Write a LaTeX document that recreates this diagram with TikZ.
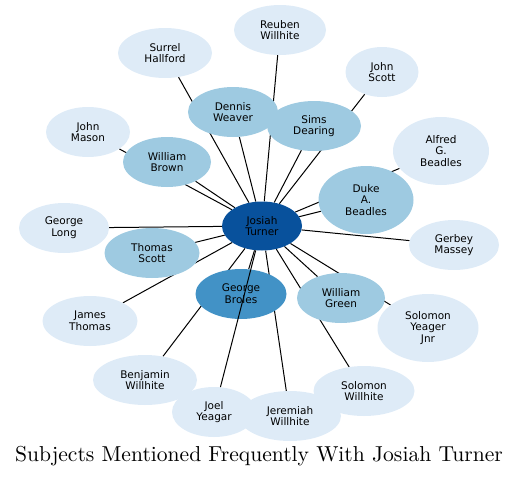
\documentclass[tikz,border=0pt]{standalone}
\usepackage{fontspec}
\setsansfont{DejaVu Sans}
\newfontfamily\titlefont{lmroman10-regular.otf}
\usetikzlibrary{shapes.geometric,backgrounds}
\definecolor{pale}{HTML}{DEEBF7}
\definecolor{mid}{HTML}{9ECAE1}
\definecolor{deep}{HTML}{4292C6}
\definecolor{core}{HTML}{08519C}

\begin{document}
\begin{tikzpicture}[x=1pt, y=-1pt,
    person/.style={ellipse, fill=pale, inner sep=0pt, minimum width=#1, minimum height=50pt,
      align=center, text=black, font=\sffamily\fontsize{10.5}{11.7}\selectfont},
    tall/.style={minimum height=68pt},
    link/.style={line width=1pt}]
    \useasboundingbox (0,0) rectangle (519,477);

    % Nodes
    \node[person=80pt, fill=core, minimum height=49pt] at (262, 226) (jt) {Josiah\\Turner};
    \node[person=94pt] at (165, 53) (sh) {Surrel\\Hallford};
    \node[person=92pt] at (280, 30) (rw) {Reuben\\Willhite};
    \node[person=73pt] at (382, 72) (js) {John\\Scott};
    \node[person=90pt, fill=mid] at (233, 112) (dw) {Dennis\\Weaver};
    \node[person=94pt, fill=mid] at (314, 126) (sd) {Sims\\Dearing};
    \node[person=96pt, tall] at (441, 151) (ab) {Alfred\\G.\\Beadles};
    \node[person=84pt] at (88, 132) (jm) {John\\Mason};
    \node[person=88pt, fill=mid] at (167, 162) (wb) {William\\Brown};
    \node[person=95pt, tall, fill=mid] at (366, 200) (db) {Duke\\A.\\Beadles};
    \node[person=90pt] at (64, 228) (gl) {George\\Long};
    \node[person=90pt] at (454, 245) (gm) {Gerbey\\Massey};
    \node[person=95pt, fill=mid] at (152, 253) (ts) {Thomas\\Scott};
    \node[person=91pt, fill=deep] at (241, 294) (gb) {George\\Broles};
    \node[person=88pt, fill=mid] at (341, 298) (wg) {William\\Green};
    \node[person=95pt] at (90, 321) (jth) {James\\Thomas};
    \node[person=101pt, tall] at (428, 328) (sy) {Solomon\\Yeager\\Jnr};
    \node[person=104pt] at (145, 380) (bw) {Benjamin\\Willhite};
    \node[person=101pt] at (364, 391) (sw) {Solomon\\Willhite};
    \node[person=84pt] at (214, 412) (jy) {Joel\\Yeagar};
    \node[person=102pt] at (290, 416) (jw) {Jeremiah\\Willhite};

    % Links
    \begin{scope}[on background layer]
    \draw[link] (jt) edge (sh);
    \draw[link] (jt) edge (rw);
    \draw[link] (jt) edge (js);
    \draw[link] (jt) edge (dw);
    \draw[link] (jt) edge (sd);
    \draw[link] (jt) edge (ab);
    \draw[link] (jt) edge (jm);
    \draw[link] (jt) edge (wb);
    \draw[link] (jt) edge (db);
    \draw[link] (jt) edge (gl);
    \draw[link] (jt) edge (gm);
    \draw[link] (jt) edge (ts);
    \draw[link] (jt) edge (gb);
    \draw[link] (jt) edge (wg);
    \draw[link] (jt) edge (jth);
    \draw[link] (jt) edge (sy);
    \draw[link] (jt) edge (bw);
    \draw[link] (jt) edge (sw);
    \draw[link] (jt) edge (jw);
    \end{scope}
    \draw[link] (jt) edge (jy);

    \node[anchor=base, inner sep=0pt, font=\titlefont\fontsize{21.6}{25}\selectfont] at (259, 461.5) (title) {Subjects Mentioned Frequently With Josiah Turner};
\end{tikzpicture}
\end{document}
